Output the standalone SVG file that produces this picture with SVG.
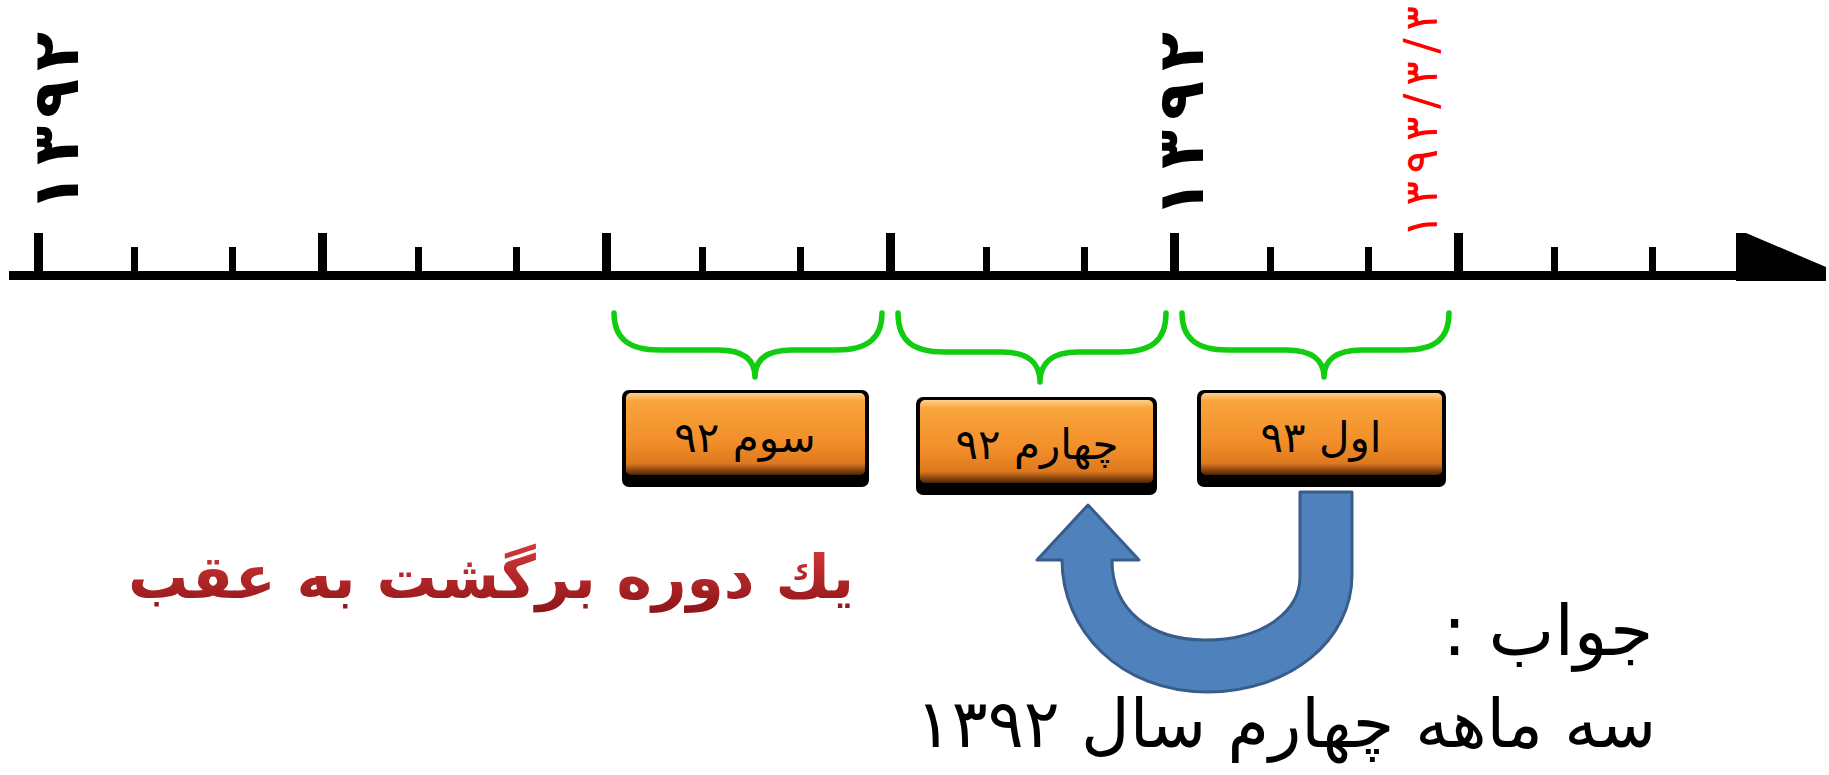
<svg xmlns="http://www.w3.org/2000/svg" width="1829" height="775" viewBox="0 0 1829 775">
<style>
.tick{fill:#000}
.brace{fill:none;stroke:#11CC11;stroke-width:5.5;stroke-linecap:round;stroke-linejoin:round}
.ar{font-family:"DejaVu Sans",sans-serif}
.box-text{font-size:42px;fill:#000;text-anchor:middle}
.vnum{font-family:"DejaVu Sans",sans-serif;font-weight:bold;font-size:64px;fill:#000}
</style>
<defs>
<linearGradient id="og" x1="0" y1="0" x2="0" y2="1">
<stop offset="0" stop-color="#FFD08A"/>
<stop offset="0.1" stop-color="#F9A53C"/>
<stop offset="0.6" stop-color="#F28E2A"/>
<stop offset="0.86" stop-color="#DE781F"/>
<stop offset="1" stop-color="#4A2406"/>
</linearGradient>
<linearGradient id="rg" x1="0" y1="0" x2="0" y2="1">
<stop offset="0" stop-color="#D63A3A"/>
<stop offset="1" stop-color="#8E1418"/>
</linearGradient>
</defs>
<rect width="1829" height="775" fill="#fff"/>
<g id="axis">
<rect x="9" y="271" width="1730" height="9" fill="#000"/>
<polygon points="1736,233 1746,233 1826,267 1826,281 1736,281" fill="#000"/>
<rect class="tick" x="34" y="233" width="9" height="40"/>
<rect class="tick" x="131" y="247" width="7" height="26"/>
<rect class="tick" x="229" y="247" width="7" height="26"/>
<rect class="tick" x="318" y="233" width="9" height="40"/>
<rect class="tick" x="415" y="247" width="7" height="26"/>
<rect class="tick" x="513" y="247" width="7" height="26"/>
<rect class="tick" x="602" y="233" width="9" height="40"/>
<rect class="tick" x="699" y="247" width="7" height="26"/>
<rect class="tick" x="797" y="247" width="7" height="26"/>
<rect class="tick" x="886" y="233" width="9" height="40"/>
<rect class="tick" x="983" y="247" width="7" height="26"/>
<rect class="tick" x="1081" y="247" width="7" height="26"/>
<rect class="tick" x="1170" y="233" width="9" height="40"/>
<rect class="tick" x="1267" y="247" width="7" height="26"/>
<rect class="tick" x="1365" y="247" width="7" height="26"/>
<rect class="tick" x="1454" y="233" width="9" height="40"/>
<rect class="tick" x="1551" y="247" width="7" height="26"/>
<rect class="tick" x="1649" y="247" width="7" height="26"/>
</g>
<g id="year-labels">
<text class="vnum" transform="translate(78,212) rotate(-90)" x="0" y="0" textLength="180" lengthAdjust="spacing">۱۳۹۲</text>
<text class="vnum" transform="translate(1203,218) rotate(-90)" x="0" y="0" textLength="186" lengthAdjust="spacing">۱۳۹۲</text>
<text transform="translate(1437,238) rotate(-90)" x="0" y="0" font-family="DejaVu Sans, sans-serif" font-size="46" fill="#FF0000" textLength="232" lengthAdjust="spacing">۱۳۹۳/۳/۳</text>
</g>
<g id="connectors">
<path class="brace" d="M614,313 C614,338 628,350 660,350 L718,350 C744,350 755,360 755,377 C755,360 766,350 792,350 L836,350 C868,350 882,338 882,313"/>
<path class="brace" d="M898,313 C898,340 912,352 944,352 L1002,352 C1028,352 1040,363 1040,382 C1040,363 1052,352 1078,352 L1120,352 C1152,352 1166,340 1166,313"/>
<path class="brace" d="M1182,313 C1182,338 1196,350 1228,350 L1286,350 C1312,350 1324,360 1324,377 C1324,360 1336,350 1362,350 L1404,350 C1436,350 1449,338 1449,313"/>
<path id="uturn" d="M1300,492 L1352,492 L1352,575 C1352,640 1290,692 1207,692 C1120,692 1062,630 1062,560 L1037,560 L1088,505 L1139,560 L1112,560 C1112,610 1150,640 1205,640 C1265,640 1300,610 1300,577 Z" fill="#4F81BD" stroke="#385D8A" stroke-width="3" stroke-linejoin="round"/>
</g>
<g id="node-q3-92">
<rect x="622" y="390" width="247" height="97" rx="7" fill="#000"/>
<rect x="626" y="393" width="239" height="82" rx="5" fill="url(#og)"/>
<text class="ar box-text" x="745" y="452" direction="rtl">سوم ۹۲</text>
</g>
<g id="node-q4-92">
<rect x="916" y="397" width="241" height="98" rx="7" fill="#000"/>
<rect x="920" y="400" width="233" height="83" rx="5" fill="url(#og)"/>
<text class="ar box-text" x="1037" y="459" direction="rtl">چهارم ۹۲</text>
</g>
<g id="node-q1-93">
<rect x="1197" y="390" width="249" height="97" rx="7" fill="#000"/>
<rect x="1201" y="393" width="241" height="82" rx="5" fill="url(#og)"/>
<text class="ar box-text" x="1321" y="452" direction="rtl">اول ۹۳</text>
</g>
<g id="captions">
<text class="ar" x="491" y="598" font-size="60" font-weight="bold" fill="url(#rg)" text-anchor="middle" direction="rtl">يك دوره برگشت به عقب</text>
<text class="ar" x="1548" y="655" font-size="70" fill="#000" text-anchor="middle" direction="rtl">جواب :</text>
<text class="ar" x="1286" y="747" font-size="67" fill="#000" text-anchor="middle" direction="rtl">سه ماهه چهارم سال ۱۳۹۲</text>
</g>
</svg>
